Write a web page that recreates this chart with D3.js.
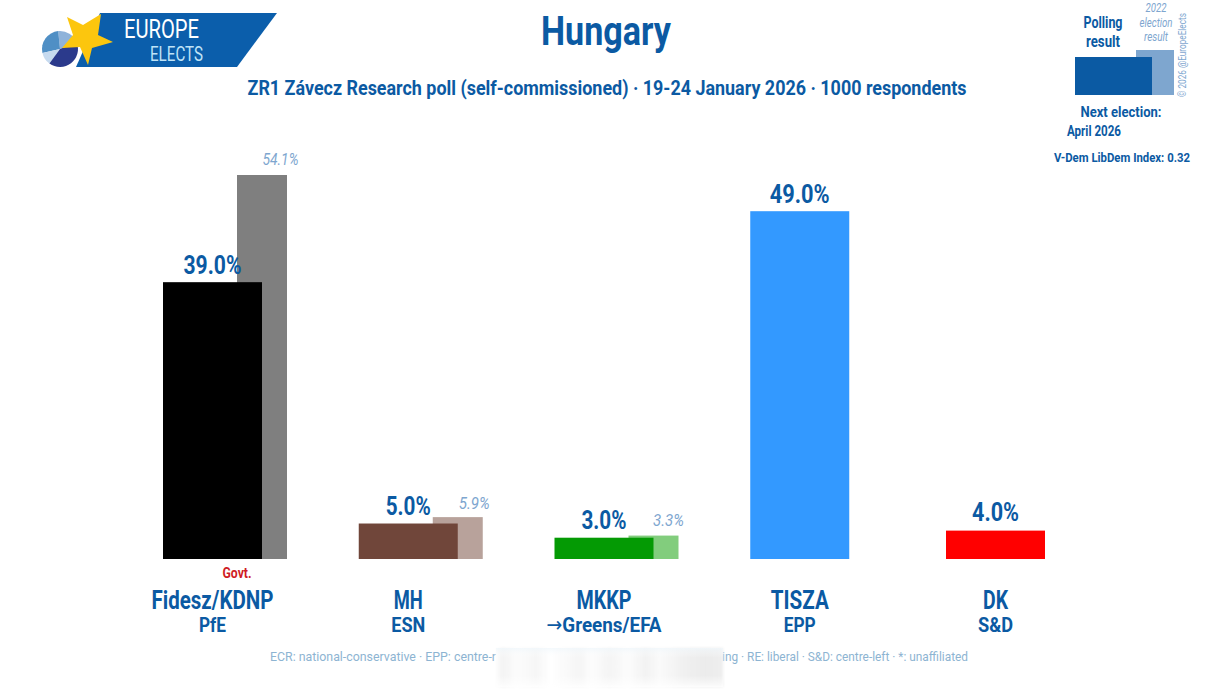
<!DOCTYPE html>
<html><head><meta charset="utf-8"><script src="https://cdnjs.cloudflare.com/ajax/libs/d3/7.9.0/d3.min.js"></script>
<style>html,body{margin:0;padding:0;background:#fff}svg{display:block}text{font-family:"Liberation Sans Narrow","Roboto","DejaVu Sans",sans-serif;}</style></head>
<body><svg id="c" width="1215" height="700"></svg>
<script>
const parties=["Fidesz/KDNP","MH","MKKP","TISZA","DK"];
const groups=["PfE","ESN","→Greens/EFA","EPP","S&D"];
const polling=[39.0,5.0,3.0,49.0,4.0];
const previous=[54.1,5.9,3.3,null,null];
const colours=["#000000","#70463a","#049a04","#3399ff","#ff0000"];
const prevColours=["#7f7f7f","#b8a29b","#82cd7d",null,null];
const blue="#0b5aa3", light="#7ea6cf", foot="#8db4d2";
const svg=d3.select("#c");
const y=d3.scaleLinear().domain([0,54.1]).range([559,175]);
const x=d3.scalePoint().domain(parties).range([212.5,995.5]);
const bw=99, pw=50, poff=25;
function t(px,py,s,size,col,opt={}){
  const e=svg.append("text").attr("x",px).attr("y",py).attr("font-size",size).attr("fill",col).attr("text-anchor",opt.anchor||"middle").text(s);
  if(opt.w){e.attr("textLength",opt.w).attr("lengthAdjust","spacingAndGlyphs");}
  if(opt.weight)e.attr("font-weight",opt.weight);
  if(opt.italic)e.attr("font-style","italic");
  return e;
}
svg.append("g").selectAll("rect").data(parties.map((p,i)=>({p,v:previous[i],c:prevColours[i]})).filter(d=>d.v!=null)).join("rect")
 .attr("x",d=>x(d.p)+poff-.5).attr("width",pw).attr("y",d=>y(d.v)).attr("height",d=>y(0)-y(d.v)).attr("fill",d=>d.c);
svg.append("g").selectAll("rect").data(parties.map((p,i)=>({p,v:polling[i],c:colours[i]}))).join("rect")
 .attr("x",d=>x(d.p)-bw/2).attr("width",bw).attr("y",d=>y(d.v)).attr("height",d=>y(0)-y(d.v)).attr("fill",d=>d.c);
const valW=[58,45,45,60,47];
const valGap=[8,9,9,8,9.5];
const prevOff=[68,66,64.5];
parties.forEach((p,i)=>{
  t(x(p),y(polling[i])-valGap[i],polling[i].toFixed(1)+"%",25,blue,{weight:"bold",w:valW[i]});
  if(previous[i]!=null) t(x(p)+prevOff[i],y(previous[i])-(i==1?8:10),previous[i].toFixed(1)+"%",16,"#7ea6cf",{italic:true,w:i==0?36:31});
});
const nameW=[122,29,55,58,25], groupW=[27,34,115,32,35];
parties.forEach((p,i)=>{
  t(x(p),608.5,p,25,blue,{weight:"bold",w:nameW[i]});
  const g=t(x(p),632,"",21,blue,{weight:"bold",w:groupW[i]});
  const s=groups[i];
  if(s[0]==="→"){g.append("tspan").attr("font-weight","normal").text("→");g.append("tspan").text(s.slice(1));}
  else g.text(s);
});
t(237,578,"Govt.",14,"#cf1c24",{weight:"bold",w:29});
t(606,45,"Hungary",40,blue,{weight:"bold",w:130});
t(607,95,"ZR1 Závecz Research poll (self-commissioned) · 19-24 January 2026 · 1000 respondents",21,blue,{weight:"bold",w:719});
svg.append("rect").attr("x",1136).attr("y",50).attr("width",38).attr("height",45).attr("fill",light);
svg.append("rect").attr("x",1075).attr("y",57).attr("width",77).attr("height",38).attr("fill",blue);
t(1103,28,"Polling",16,blue,{weight:"bold",w:39});
t(1103,47,"result",16,blue,{weight:"bold",w:34});
t(1156,12,"2022",12,light,{italic:true,w:21});
t(1156,27,"election",12,light,{italic:true,w:33});
t(1156,41,"result",12,light,{italic:true,w:24});
const cp=svg.append("g").attr("transform","translate(1186,97) rotate(-90)").append("text").attr("font-size",11).attr("fill","#7ea6cf").text("© 2026 @EuropeElects");
cp.attr("transform",`scale(${84/cp.node().getComputedTextLength()},1)`);
t(1121,117,"Next election:",15,blue,{weight:"bold",w:81});
t(1094,136,"April 2026",14,blue,{weight:"bold",w:54});
t(1122,162,"V-Dem LibDem Index: 0.32",13.5,blue,{weight:"bold",w:136});
// footer
t(270,661,"ECR: national-conservative · EPP: centre-r",13,foot,{anchor:"start",w:226});
t(968,661,"ing · RE: liberal · S&D: centre-left · *: unaffiliated",13,foot,{anchor:"end",w:246});
const defs=svg.append("defs");
const gr=defs.append("linearGradient").attr("id","sm");
[[0,"#fdfdfd"],[.03,"#f3f3f3"],[.09,"#fcfcfc"],[.18,"#f6f6f6"],[.24,"#ffffff"],[.37,"#f5f5f5"],[.42,"#fdfdfd"],[.5,"#f4f4f4"],[.58,"#fcfcfc"],[.66,"#f2f2f2"],[.72,"#fafafa"],[.82,"#f1f1f1"],[.92,"#ebebeb"],[1,"#eeeeee"]].forEach(([o,c])=>gr.append("stop").attr("offset",o).attr("stop-color",c));
const flt=defs.append("filter").attr("id","b").attr("x","-5%").attr("y","-20%").attr("width","110%").attr("height","140%");
flt.append("feGaussianBlur").attr("stdDeviation",1.5);
const fade=defs.append("linearGradient").attr("id","fd").attr("x1",0).attr("x2",0).attr("y1",0).attr("y2",1);
[[0,"#eef6fb",.7],[.25,"#fff",0],[.7,"#fff",0],[1,"#fff",.8]].forEach(([o,c,a])=>fade.append("stop").attr("offset",o).attr("stop-color",c).attr("stop-opacity",a));
svg.append("rect").attr("x",496).attr("y",648).attr("width",227).attr("height",39).attr("fill","url(#sm)").attr("filter","url(#b)");
svg.append("rect").attr("x",496).attr("y",648).attr("width",227).attr("height",39).attr("fill","url(#fd)");
// logo
const lg=svg.append("g");
lg.append("path").attr("d","M100 13H277L237 67H76Z").attr("fill","#0b5eab");
const pie=d3.arc().innerRadius(0).outerRadius(18);
const pc=[[-0.1,1.2,"#8fb3da"],[-1.79,-0.1,"#4f8fc5"],[-2.51,-1.79,"#c6daef"],[1.2,3.77,"#2b3a8c"]];
pc.forEach(([a,b,c])=>lg.append("path").attr("transform","translate(60,49)").attr("d",pie({startAngle:a,endAngle:b})).attr("fill",c));
lg.append("path").attr("d","M67 17L83 25 101 14 98 35 113 42 92 48 88 65 80 47 62 48 73 35Z").attr("fill","#fcc60e");
t(124,38,"EUROPE",25,"#fff",{anchor:"start",w:75});
t(150,61,"ELECTS",20,"#bfe3f7",{anchor:"start",w:53});
</script></body></html>
